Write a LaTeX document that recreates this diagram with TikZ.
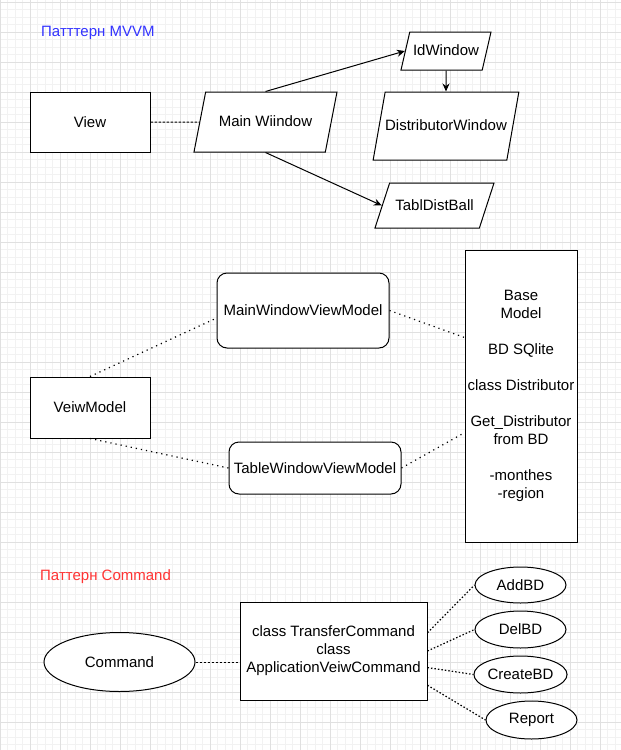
\documentclass[tikz,border=0pt]{standalone}
\usepackage[table]{xcolor}
\usepackage{fontspec}
\setmainfont{Liberation Sans}
\usepackage{tikz}
\usetikzlibrary{arrows.meta,backgrounds,calc,positioning,shapes.geometric}
\definecolor{gridmin}{HTML}{F2F2F2}
\definecolor{gridmaj}{HTML}{E0E0E0}
\definecolor{mvvmblue}{HTML}{3333FF}
\definecolor{cmdred}{HTML}{FF3333}
\tikzset{
  lbl/.style={font=\fontsize{15pt}{18pt}\selectfont, inner sep=0pt, align=center},
  box/.style={lbl, draw, fill=white, line width=1pt},
  rbox/.style={box, rounded corners=10pt},
  para/.style 2 args={box, trapezium, trapezium stretches body=true, trapezium left angle=#1, trapezium right angle=180-#1,
    text height=12pt, text depth=3pt, inner xsep=0pt, inner ysep=#2},
  oval/.style={box, ellipse},
  arr/.style={line width=1pt, -{Stealth[length=8pt,width=7pt]}},
  dlink/.style={line width=1pt, dash pattern=on 2.5pt off 1.5pt},
  link/.style={line width=1.2pt, dash pattern=on 1.2pt off 4pt},
  clink/.style={line width=1.2pt, dash pattern=on 1.5pt off 2pt}
}

\begin{document}
\begin{tikzpicture}[x=1pt,y=-1pt]
\useasboundingbox (0,0) rectangle (621,750);
\fill[white] (0,0) rectangle (621,750);
\draw[gridmin, line width=0.6pt, step=7.5pt, yshift=-2pt] (0,-2) grid (621,748);
\draw[gridmaj, line width=0.8pt, step=30pt, yshift=-2pt] (0,-2) grid (621,748);

\node[lbl, text=mvvmblue, anchor=west] (mvvm) at (41,33) {Патттерн MVVM};
\node[box, minimum width=120pt, minimum height=60pt] (view) at (90,122) {View};
\node[para={79}{22.5pt}, minimum width=143pt] (main) at (265.5,122) {Main Wiindow};
\node[para={77}{11.5pt}, minimum width=90pt] (id) at (446,51) {IdWindow};
\node[para={80}{26.5pt}, minimum width=142pt] (dist) at (446,126) {DistributorWindow};
\node[para={72}{15pt}, minimum width=119pt] (tabl) at (434.5,205.5) {TablDistBall};
\draw[dlink] (view) -- (main);
\draw[arr] (main.north) -- (id.west);
\draw[arr] (id) -- (dist);
\draw[arr] (main.south) -- (tabl.west);

\node[box, minimum width=120pt, minimum height=61pt] (vm) at (90,407.5) {VeiwModel};
\node[rbox, minimum width=172pt, minimum height=75pt] (mwvm) at (303,310.5) {MainWindowViewModel};
\node[rbox, minimum width=172pt, minimum height=52pt] (twvm) at (315,468) {TableWindowViewModel};
\node[box, minimum width=112pt, minimum height=292pt] (base) at (521,396) {Base\\Model\\[18pt]BD SQlite\\[18pt]class Distributor\\[18pt]Get\_Distributor\\from BD\\[18pt]-monthes\\-region};
\draw[link] (vm.north) -- (mwvm.185);
\draw[link] (mwvm.east) -- (base.134);
\draw[link] (vm.south) -- (twvm.west);
\draw[link] (twvm.east) -- (base.213);

\node[lbl, text=cmdred, anchor=west] (cmdtitle) at (40,577) {Паттерн Command};
\node[oval, minimum width=151pt, minimum height=59pt] (cmd) at (119.5,662) {Command};
\node[box, minimum width=187pt, minimum height=98pt] (cls) at (333.5,651) {class TransferCommand\\class\\ApplicationVeiwCommand};
\node[oval, minimum width=91pt, minimum height=36pt] (add) at (520.5,585) {AddBD};
\node[oval, minimum width=91pt, minimum height=37pt] (del) at (520.5,629.5) {DelBD};
\node[oval, minimum width=91pt, minimum height=37pt] (create) at (520.5,674.5) {CreateBD};
\node[oval, minimum width=91pt, minimum height=38pt] (report) at (531.5,720) {Report};
\draw[dlink] (cmd.east) -- (cmd.east -| cls.west);
\draw[clink] (cls.11) -- (add.west);
\draw[clink] (cls.east) -- (del.west);
\draw[clink] (cls.350) -- (create.west);
\draw[clink] (cls.340) -- (report.west);
\end{tikzpicture}
\end{document}
